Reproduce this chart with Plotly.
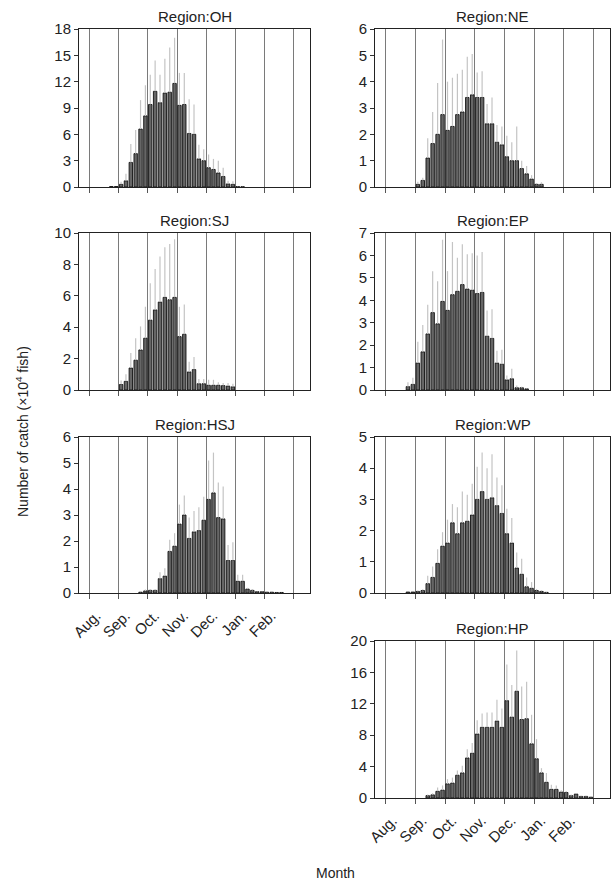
import numpy as np
import plotly.graph_objects as go

# Five-day (half-decade) bins, six per month, August through February
MONTHS = ["Aug.", "Sep.", "Oct.", "Nov.", "Dec.", "Jan.", "Feb."]
BINS_PER_MONTH = 6

Z = [0, 0, 0, 0, 0, 0]

# Mean catch (x10^4 fish) per bin, by region
oh_mean = [0, 0, 0, 0, 0.05, 0.05,
           0.3, 0.7, 2.8, 3.8, 6.6, 8.1,
           9.4, 10.9, 9.6, 10.7, 10.8, 11.8,
           9.3, 9.4, 6.1, 6.0, 3.2, 3.0,
           2.2, 2.0, 1.6, 1.2, 0.35, 0.3,
           0.05, 0.03, 0, 0, 0, 0] + Z
oh_sd = [0, 0, 0, 0, 0.02, 0.02,
         0.3, 0.8, 2.1, 2.7, 3.3, 3.5,
         3.4, 3.5, 3.2, 3.9, 5.1, 5.2,
         3.7, 3.6, 3.9, 3.4, 1.6, 1.3,
         1.5, 1.2, 1.4, 1.0, 0.35, 0.35,
         0.05, 0.03, 0, 0, 0, 0] + Z

ne_mean = Z + [0.1, 0.25, 1.1, 1.65, 2.0, 2.75,
               2.15, 2.3, 2.75, 2.85, 3.4, 3.5,
               3.4, 3.4, 2.4, 2.4, 1.7, 1.6,
               1.15, 1.0, 1.0, 0.7, 0.5, 0.3,
               0.1, 0.1, 0, 0, 0, 0] + Z
ne_sd = Z + [0.1, 0.1, 0.75, 1.2, 1.95, 2.85,
             1.85, 1.85, 1.55, 1.6, 1.55, 1.55,
             0.95, 1.0, 0.75, 1.0, 0.65, 0.7,
             0.8, 0.7, 1.3, 0.3, 0.3, 0.15,
             0.05, 0.08, 0, 0, 0, 0] + Z

sj_mean = Z + [0.35, 0.55, 1.4, 1.9, 2.55, 3.3,
               4.45, 5.1, 5.6, 5.9, 5.75, 5.9,
               3.4, 3.55, 1.15, 1.3, 0.4, 0.4,
               0.3, 0.3, 0.3, 0.28, 0.25, 0.2] + Z + Z
sj_sd = Z + [0.25, 0.45, 0.95, 1.4, 1.5, 2.0,
             2.35, 2.6, 2.9, 3.2, 3.55, 3.7,
             1.9, 1.9, 0.65, 0.8, 0.3, 0.3,
             0.35, 0.35, 0.2, 0.17, 0.2, 0.2] + Z + Z

ep_mean = [0, 0, 0, 0, 0.15, 0.25,
           1.2, 1.7, 2.5, 3.45, 2.95, 3.95,
           3.55, 4.25, 4.4, 4.7, 4.5, 4.45,
           4.3, 4.35, 2.4, 2.3, 1.2, 1.15,
           0.45, 0.5, 0.1, 0.1, 0.05, 0] + Z + Z
ep_sd = [0, 0, 0, 0, 0.2, 0.3,
         0.95, 1.2, 1.3, 1.85, 1.9, 2.75,
         1.75, 2.35, 1.5, 1.8, 1.55, 1.65,
         1.7, 1.8, 1.15, 1.3, 0.55, 0.65,
         0.2, 0.45, 0.1, 0.05, 0.02, 0] + Z + Z

hsj_mean = Z + [0, 0, 0, 0, 0.03, 0.08,
                0.1, 0.1, 0.55, 0.65, 1.6, 1.8,
                2.65, 3.0, 2.1, 2.35, 2.4, 2.8,
                3.6, 3.85, 2.9, 2.85, 1.25, 1.25,
                0.45, 0.45, 0.15, 0.1, 0.05, 0.05,
                0.03, 0.03, 0.02, 0.02, 0, 0]
hsj_sd = Z + [0, 0, 0, 0, 0.03, 0.05,
              0.05, 0.05, 0.25, 0.3, 0.45, 0.5,
              0.75, 0.75, 0.8, 0.8, 0.9, 0.9,
              1.5, 1.55, 1.35, 1.25, 0.6, 0.7,
              0.25, 0.25, 0.05, 0.05, 0.02, 0.02,
              0.01, 0.01, 0.01, 0.01, 0, 0]

wp_mean = [0, 0, 0, 0, 0.03, 0.03,
           0.05, 0.08, 0.3, 0.5, 0.95, 1.5,
           1.6, 2.25, 1.9, 2.25, 2.3, 2.5,
           3.0, 3.25, 3.0, 3.05, 2.8, 2.55,
           1.9, 1.6, 0.8, 0.6, 0.2, 0.15,
           0.08, 0.05, 0.02, 0, 0, 0] + Z
wp_sd = [0, 0, 0, 0, 0.01, 0.01,
         0.03, 0.04, 0.25, 0.35, 0.45, 0.45,
         0.75, 0.6, 0.85, 1.0, 0.85, 1.0,
         1.05, 1.25, 1.0, 1.4, 0.9, 0.9,
         0.8, 0.8, 0.5, 0.5, 0.3, 0.2,
         0.05, 0.04, 0.01, 0, 0, 0] + Z

hp_mean = Z + [0, 0, 0.3, 0.4, 0.85, 1.0,
               1.8, 1.9, 2.9, 3.2, 5.1, 5.7,
               8.15, 9.0, 9.0, 9.0, 9.8, 9.0,
               12.4, 10.3, 13.6, 10.0, 10.1, 6.9,
               5.0, 3.2, 2.0, 1.1, 1.1, 0.75,
               0.7, 0.3, 0.5, 0.2, 0.2, 0.1]
hp_sd = Z + [0, 0, 0.15, 0.2, 0.5, 0.6,
             0.6, 0.7, 0.6, 0.9, 1.1, 1.3,
             1.75, 1.75, 1.9, 1.9, 2.7, 2.4,
             4.6, 4.1, 5.2, 4.2, 4.7, 3.7,
             2.5, 0.6, 1.2, 0.6, 0.5, 0.25,
             0.2, 0.15, 0.15, 0.1, 0.1, 0.05]

# (name, mean, sd, y max, y step, column, row, show month labels)
PANELS = [
    ("OH", oh_mean, oh_sd, 18, 3, 0, 0, False),
    ("NE", ne_mean, ne_sd, 6, 1, 1, 0, False),
    ("SJ", sj_mean, sj_sd, 10, 2, 0, 1, False),
    ("EP", ep_mean, ep_sd, 7, 1, 1, 1, False),
    ("HSJ", hsj_mean, hsj_sd, 6, 1, 0, 2, True),
    ("WP", wp_mean, wp_sd, 5, 1, 1, 2, False),
    ("HP", hp_mean, hp_sd, 20, 4, 1, 3, True),
]

W, H = 614, 885
COL_X = [(79, 310), (375, 610)]
ROW_Y = [(29, 187), (233, 390), (437, 593), (641, 798)]

FONT = "Liberation Sans, Arial, sans-serif"
BAR_FILL = "#666666"
BAR_EDGE = "#111111"
ERR_COLOR = "#c4c4c4"

fig = go.Figure()
layout = dict(
    template="none",
    width=W, height=H,
    margin=dict(l=0, r=0, t=0, b=0, autoexpand=False),
    paper_bgcolor="white", plot_bgcolor="white",
    showlegend=False, bargap=0.3,
    font=dict(family=FONT, size=14, color="#222"),
    annotations=[],
)

month_ticks = list(range(len(MONTHS)))
month_end = [len(MONTHS)]

for i, (name, mean, sd, ymax, ystep, col, row, labels) in enumerate(PANELS, start=1):
    n = len(mean)
    x = (np.arange(n) + 0.5) / BINS_PER_MONTH
    # empty bins are left undrawn so only the baseline shows there
    y = [v if v > 0 else None for v in mean]
    xa = "x" if i == 1 else f"x{i}"
    ya = "y" if i == 1 else f"y{i}"
    fig.add_trace(go.Bar(
        x=x, y=y, xaxis=xa, yaxis=ya,
        marker=dict(color=BAR_FILL, line=dict(color=BAR_EDGE, width=0.9)),
        error_y=dict(type="data", array=sd, arrayminus=[0] * n, symmetric=False,
                     color=ERR_COLOR, thickness=1.2, width=0),
    ))
    x0, x1 = COL_X[col]
    y0, y1 = ROW_Y[row]
    xdom = [x0 / W, x1 / W]
    ydom = [1 - y1 / H, 1 - y0 / H]
    key = "" if i == 1 else str(i)
    layout["xaxis" + key] = dict(
        domain=xdom, anchor=ya, range=[-0.36, 7.56], automargin=False,
        tickmode="array", tickvals=month_ticks, ticktext=MONTHS,
        showticklabels=labels, tickangle=-45, tickfont=dict(size=15, color="#222"),
        ticklabelshift=7, ticklabelstandoff=2,
        ticks="outside", ticklen=5, tickcolor="#555",
        showgrid=True, gridcolor="#7a7a7a", gridwidth=1,
        minor=dict(tickmode="array", tickvals=month_end, ticks="outside", ticklen=5,
                   tickcolor="#555", showgrid=True, gridcolor="#7a7a7a", gridwidth=1),
        showline=True, linecolor="#222", linewidth=1, mirror=True,
        zeroline=False, fixedrange=True,
    )
    layout["yaxis" + key] = dict(
        domain=ydom, anchor=xa, range=[0, ymax], automargin=False,
        tickmode="array", tickvals=list(range(0, ymax + 1, ystep)),
        ticks="outside", ticklen=4, tickcolor="#333",
        tickfont=dict(size=15, color="#222"),
        showgrid=False, zeroline=False,
        showline=True, linecolor="#222", linewidth=1, mirror=True,
        fixedrange=True,
    )
    layout["annotations"].append(dict(
        text=f"Region:{name}", xref="paper", yref="paper",
        x=(xdom[0] + xdom[1]) / 2, y=ydom[1], xanchor="center", yanchor="bottom",
        yshift=2, showarrow=False, font=dict(size=15, color="#222"),
    ))

layout["annotations"].append(dict(
    text="Number of catch (×10<sup>4</sup> fish)", xref="paper", yref="paper",
    x=22 / W, y=1 - 432 / H, xanchor="center", yanchor="middle",
    textangle=-90, showarrow=False, font=dict(size=14, color="#222"),
))
layout["annotations"].append(dict(
    text="Month", xref="paper", yref="paper",
    x=335 / W, y=1 - 873 / H, xanchor="center", yanchor="middle",
    showarrow=False, font=dict(size=14, color="#222"),
))

fig.update_layout(**layout)
fig.write_html("out.html")
